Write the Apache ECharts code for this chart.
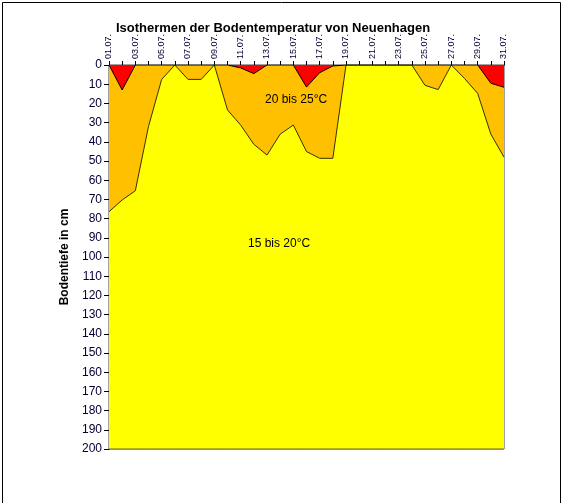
<!DOCTYPE html>
<html>
<head>
<meta charset="utf-8">
<script src="https://cdn.jsdelivr.net/npm/echarts@6/dist/echarts.min.js"></script>
<style>
  html, body { margin: 0; padding: 0; background: #fff; }
  #main { width: 561px; height: 503px; }
</style>
</head>
<body>
<div id="main"></div>
<script>
// Tage im Juli
const days = ['01.07.', '02.07.', '03.07.', '04.07.', '05.07.', '06.07.', '07.07.', '08.07.', '09.07.', '10.07.',
  '11.07.', '12.07.', '13.07.', '14.07.', '15.07.', '16.07.', '17.07.', '18.07.', '19.07.', '20.07.',
  '21.07.', '22.07.', '23.07.', '24.07.', '25.07.', '26.07.', '27.07.', '28.07.', '29.07.', '30.07.', '31.07.']

// Tiefe (cm) der 25°C-Isotherme
const depth25 = [0, 13, 0, 0, 0, 0, 0, 0, 0, 0,
  1.5, 4.5, 0, 0, 0, 11.5, 4, 0.5, 0, 0,
  0, 0, 0, 0, 0, 0, 0, 0, 0, 9.5, 11.6]

// Tiefe (cm) der 20°C-Isotherme
const depth20 = [76.4, 70.3, 65.5, 32, 7.5, 0, 7.5, 7.5, 0, 23.4,
  31.3, 41.3, 46.9, 36, 31.3, 45.1, 48.6, 48.6, 0, 0,
  0, 0, 0, 0, 10.6, 12.8, 0, 7, 14.8, 36, 48]

// 15°C reicht bis zur Messgrenze
const depth15 = days.map(() => 200)

const yTicks = { min: 0, max: 200, interval: 10 }

const chart = echarts.init(document.getElementById('main'))

const areaSeries = (name, data, color, lineColor) => ({
  name,
  type: 'line',
  data,
  symbol: 'none',
  smooth: false,
  lineStyle: { color: lineColor, width: 1 },
  areaStyle: { color, opacity: 1 },
  itemStyle: { color },
  animation: false
})

chart.setOption({
  animation: false,
  title: {
    text: 'Isothermen der Bodentemperatur von Neuenhagen',
    left: 268,
    top: 17,
    textAlign: 'center',
    textStyle: { fontFamily: 'Liberation Sans', fontSize: 13, fontWeight: 'bold', color: '#000' }
  },
  grid: {
    left: 109, right: 57, top: 65, bottom: 54,
    show: true, borderColor: '#444', borderWidth: 1, backgroundColor: 'transparent'
  },
  xAxis: {
    type: 'category',
    position: 'top',
    data: days,
    boundaryGap: false,
    axisLine: { lineStyle: { color: '#000', width: 1 } },
    axisTick: { show: true, interval: 0, length: 4, lineStyle: { color: '#000' } },
    axisLabel: {
      interval: 1, rotate: 90, margin: 6,
      fontFamily: 'Liberation Sans', fontSize: 9, color: '#000033'
    },
    splitLine: { show: false }
  },
  yAxis: {
    type: 'value',
    inverse: true,
    min: yTicks.min, max: yTicks.max, interval: yTicks.interval,
    name: 'Bodentiefe in cm',
    nameLocation: 'middle',
    nameGap: 36,
    nameRotate: 90,
    nameTextStyle: { fontFamily: 'Liberation Sans', fontSize: 12, fontWeight: 'bold', color: '#000' },
    axisLine: { show: true, lineStyle: { color: '#000', width: 1 } },
    axisTick: { show: true, length: 5, lineStyle: { color: '#000' } },
    axisLabel: { margin: 7, fontFamily: 'Liberation Sans', fontSize: 12, color: '#000033' },
    splitLine: { show: false }
  },
  series: [
    areaSeries('15 bis 20°C', depth15, '#FFFF00', '#666633'),
    areaSeries('20 bis 25°C', depth20, '#FFC000', '#333300'),
    areaSeries('über 25°C', depth25, '#FF0000', '#000')
  ],
  graphic: [
    {
      type: 'rect', left: 0, top: 0, z: 100,
      shape: { x: 0.5, y: 0.5, width: 558, height: 501 },
      style: { fill: 'none', stroke: '#000', lineWidth: 1 }
    },
    {
      type: 'text', left: 265, top: 94, z: 100,
      style: { text: '20 bis 25°C', font: '12px "Liberation Sans"', fill: '#000' }
    },
    {
      type: 'text', left: 248, top: 238, z: 100,
      style: { text: '15 bis 20°C', font: '12px "Liberation Sans"', fill: '#000' }
    }
  ]
})
</script>
</body>
</html>
